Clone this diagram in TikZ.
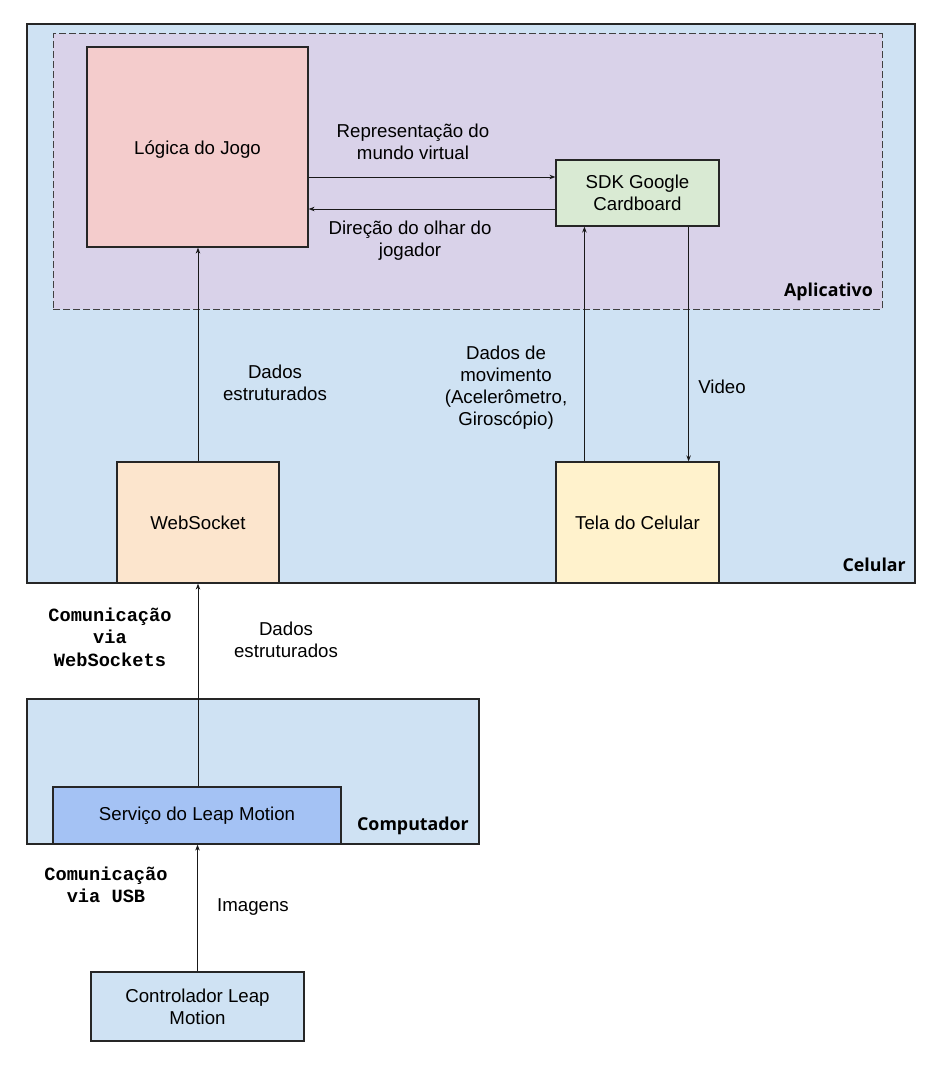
\documentclass[tikz,border=0pt]{standalone}
\usepackage{fontspec}
\setmainfont{Liberation Sans}
\setmonofont{Liberation Mono}
\newfontfamily\lblfont{Open Sans}
\usetikzlibrary{arrows.meta,calc}
\definecolor{cellblue}{HTML}{CFE2F3}
\definecolor{applilac}{HTML}{D9D2E9}
\definecolor{logicpink}{HTML}{F4CCCC}
\definecolor{sdkgreen}{HTML}{D9EAD3}
\definecolor{wsorange}{HTML}{FCE5CD}
\definecolor{telayellow}{HTML}{FFF2CC}
\definecolor{svcblue}{HTML}{A4C2F4}
\begin{document}
\begin{tikzpicture}[x=1pt,y=-1pt,
  font=\fontsize{18.67}{22}\selectfont,
  box/.style={draw=black!85,line width=1.2pt,inner sep=0pt,align=center},
  arr/.style={draw=black!90,line width=0.9pt,-{Stealth[length=6pt,width=4.5pt]}},
  lbl/.style={align=center,inner sep=0pt},
  grp/.style={inner sep=0pt,font=\lblfont\bfseries\fontsize{17.8}{20}\selectfont},
  mono/.style={align=center,inner sep=0pt,font=\ttfamily\bfseries\fontsize{18.67}{22.5}\selectfont}]
\useasboundingbox (0,0) rectangle (933,1073);
% containers
\node[box,fill=cellblue,minimum width=888pt,minimum height=559pt] (cel) at (471,303.5) {};
\node[box,dash pattern=on 7pt off 3pt,draw=black!75,line width=1pt,fill=applilac,minimum width=829pt,minimum height=275pt] (app) at (467.5,171.5) {};
\node[box,fill=cellblue,minimum width=452pt,minimum height=145pt] (comp) at (253,771.5) {};
% boxes
\node[box,fill=logicpink,minimum width=221pt,minimum height=200pt] (logic) at (197.5,147) {};
\node[lbl] (logict) at (197.5,150) {Lógica do Jogo};
\node[box,fill=sdkgreen,minimum width=163pt,minimum height=66pt] (sdk) at (637.5,193) {SDK Google\\Cardboard};
\node[box,fill=wsorange,minimum width=162pt,minimum height=121pt] (ws) at (198,522.5) {WebSocket};
\node[box,fill=telayellow,minimum width=163pt,minimum height=121pt] (tela) at (637.5,522.5) {Tela do Celular};
\node[box,fill=svcblue,minimum width=288pt,minimum height=57pt] (svc) at (197,815.5) {Serviço do Leap Motion};
\node[box,fill=cellblue,minimum width=213pt,minimum height=69pt] (ctrl) at (197.5,1006.5) {Controlador Leap\\Motion};
% group labels
\node[grp,anchor=east] (lapp) at (873,292) {Aplicativo};
\node[grp,anchor=east] (lcel) at (906,565) {Celular};
\node[grp,anchor=east] (lcomp) at (469,826) {Computador};
% connector anchors
\coordinate (sdkin) at ([yshift=16pt]sdk.west);
\coordinate (sdkout) at ([yshift=-16pt]sdk.west);
\coordinate (telaout) at ([xshift=29pt]tela.north west);
\coordinate (sdkup) at ([xshift=29pt]sdk.south west);
\coordinate (sdkdown) at ([xshift=-31pt]sdk.south east);
\coordinate (telain) at ([xshift=-31pt]tela.north east);
% connectors
\draw[arr] (logic.east |- sdkin) -- (sdkin);
\draw[arr] (sdkout) -- (logic.east |- sdkout);
\draw[arr] (ws.north) -- (logic.south -| ws.north);
\draw[arr] (telaout) -- (sdkup);
\draw[arr] (sdkdown) -- (telain);
\draw[arr] (svc.north -| ws.south) -- (ws.south);
\draw[arr] (ctrl.north) -- (svc.south -| ctrl.north);
% edge labels
\node[lbl] (t1) at (413,142) {Representação do\\mundo virtual};
\node[lbl] (t2) at (410,241) {Direção do olhar do\\jogador};
\node[lbl] (t3) at (275,383) {Dados\\estruturados};
\node[lbl] (t4) at (506,388) {Dados de\\movimento\\(Acelerômetro,\\Giroscópio)};
\node[lbl] (t5) at (722,387) {Video};
\node[lbl] (t6) at (286,640) {Dados\\estruturados};
\node[lbl] (t7) at (253,907) {Imagens};
\node[mono] (m1) at (110,637) {Comunicação\\via\\WebSockets};
\node[mono] (m2) at (106,885) {Comunicação\\via USB};
\end{tikzpicture}
\end{document}
